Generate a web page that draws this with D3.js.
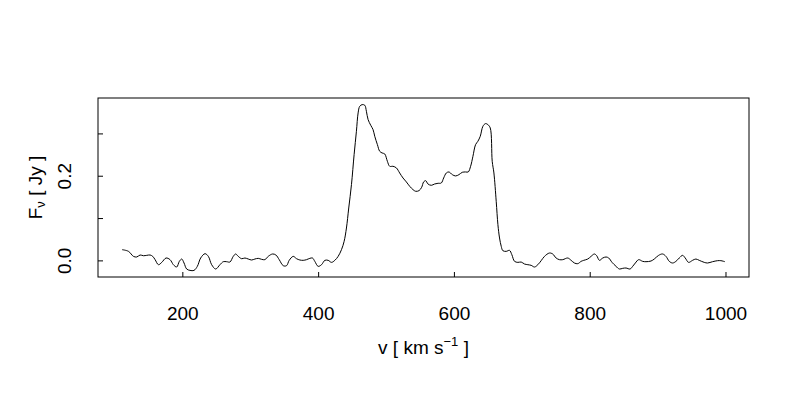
<!DOCTYPE html>
<html>
<head>
<meta charset="utf-8">
<script src="https://cdn.jsdelivr.net/npm/d3@7"></script>
<style>
  html, body { margin: 0; padding: 0; background: #fff; }
  svg { display: block; font-family: "Liberation Sans", Arial, Helvetica, sans-serif; }
</style>
</head>
<body>
<svg id="chart" width="800" height="400"></svg>
<script>
// Velocity (km/s) and flux density (Jy)
const velocity = [111.3,120.6,128,132.9,137.8,142.7,147.6,152.5,156.4,159.9,164.8,169.7,176,181.9,186.8,191.7,195.6,199.1,202.5,206.4,211.3,217.2,222.1,227,233.4,238.3,243.2,249.1,255.4,260.3,265.3,270.1,275,278.5,282.4,287.3,292.2,297.1,302,306.9,311.8,316.7,321.6,326.5,332.9,337.8,342.7,348.6,353.5,357.4,363.3,368.2,373.1,378,382.9,387.8,391.7,395.1,400,405,
  409.9,414.8,419.7,424.6,429.5,434.4,438.3,441.7,445.1,449.1,453,456.4,458.9,461.3,464.8,468.7,471.1,473.6,477.5,480.9,483.4,487.3,490.7,494.2,498.1,502,505.4,510.3,515.3,520.1,525,530,534.9,539.8,
  543.7,548.6,552.5,555.4,558.4,561.8,566.7,571.6,576.5,581.4,584.9,588.8,592.7,597.6,602.5,607.4,612.3,617.2,621.1,624.6,628,631.9,635.3,638.8,642.7,646.6,650,653.5,656.4,658.9,
  662.3,664.8,667.2,669.7,672.1,677,681.9,685.3,689.3,694.2,699.1,704,708.9,713.8,718.7,723.6,728.5,733.4,740.7,745.6,750.5,755.4,760.3,767.7,772.6,777.5,782.4,787.3,791.2,797.1,
  802,806.9,810.3,814.3,819.2,824.1,828,832.9,838.8,843.7,848.6,853.5,859.4,863.3,867.2,872.1,878,882.9,890.3,895.1,901.5,907.4,912.3,917.2,922.1,927,931.9,936.8,940.7,945.6,951.5,956.4,961.3,968.7,973.6,980.9,988.3,993.2,999.1];

const flux = [0.0253,0.0214,0.0095,0.008,0.0127,0.011,0.0119,0.0127,0.0095,0.0017,-0.0102,-0.0047,0.0056,0.0017,-0.0102,-0.0157,-0.0023,0.0032,-0.0062,-0.0204,-0.0236,-0.0236,-0.0141,0.0056,0.0158,0.0095,-0.0102,-0.0204,-0.0102,-0.0031,-0.0031,-0.0039,0.0095,0.0151,0.0095,0.004,0.0056,0.0032,0.0009,0.0032,0.0048,0.0025,0.0017,0.0095,0.0151,0.0127,0.0017,-0.0125,-0.0125,0.0001,0.0095,0.004,0.0009,0.0001,0.0017,0.0048,0.0056,-0.0023,-0.0141,-0.0102,
  0.0001,0.0001,-0.0047,0.0001,0.0095,0.0253,0.045,0.0765,0.1238,0.179,0.2499,0.305,0.3484,0.3641,0.368,0.3665,0.3523,0.3326,0.3192,0.309,0.2932,0.2735,0.2578,0.2538,0.2515,0.2341,0.2223,0.2223,0.2184,0.2065,0.1947,0.1853,0.175,0.1671,
  0.1632,0.1648,0.1727,0.1853,0.1884,0.1805,0.1774,0.1805,0.1821,0.1829,0.1947,0.2065,0.2089,0.2026,0.1995,0.2026,0.2081,0.2089,0.2089,0.2223,0.2459,0.2735,0.2814,0.2932,0.3169,0.3232,0.3208,0.3129,0.2341,0.2065,
  0.1396,0.0844,0.0529,0.0332,0.0229,0.0213,0.0237,0.0135,-0.0023,-0.0047,-0.0039,-0.0086,-0.0102,-0.0117,-0.0157,-0.0102,-0.0007,0.0095,0.0174,0.015,0.0056,0.0017,0.0017,0.0056,0.0001,-0.0062,-0.0078,-0.0023,0.0001,0.0032,
  0.0095,0.0151,0.0111,0.0001,0.0056,0.008,0.0056,-0.0047,-0.0141,-0.0204,-0.0188,-0.018,-0.0204,-0.0141,-0.0062,0.0017,-0.0023,-0.0031,-0.0015,0.0032,0.0119,0.0151,0.0095,-0.0023,-0.0062,-0.0023,0.0056,0.0119,0.0056,-0.0047,0.0001,0.0032,0.0001,-0.0047,-0.0062,-0.0031,-0.0007,-0.0007,-0.0031];

const xTicks = [200, 400, 600, 800, 1000];
const xTickLabels = ["200", "400", "600", "800", "1000"];
const yTicks = [0, 0.1, 0.2, 0.3];
const yTickLabels = ["0.0", "", "0.2", ""];

const svg = d3.select("#chart");
const plot = { left: 98, right: 749, top: 98, bottom: 277 };
const FONT = "'Liberation Sans', Arial, sans-serif";

// R-style 4% axis extension
function padExtent(arr) {
  const [lo, hi] = d3.extent(arr);
  const d = (hi - lo) * 0.04;
  return [lo - d, hi + d];
}

const x = d3.scaleLinear().domain(padExtent(velocity)).range([plot.left, plot.right]);
const y = d3.scaleLinear().domain(padExtent(flux)).range([plot.bottom, plot.top]);

const pts = velocity.map((v, i) => [v, flux[i]]);

// spectrum line
svg.append("path")
  .datum(pts)
  .attr("fill", "none")
  .attr("stroke", "#000")
  .attr("stroke-width", 1)
  .attr("d", d3.line().x(d => x(d[0])).y(d => y(d[1])).curve(d3.curveCatmullRom.alpha(0.5)));

// x axis (ticks pointing inward)
const xAxis = svg.append("g")
  .attr("transform", `translate(0,${plot.bottom})`)
  .call(d3.axisBottom(x).tickValues(xTicks).tickSize(-5)
    .tickFormat((d, i) => xTickLabels[i]));
xAxis.select(".domain").remove();
xAxis.selectAll(".tick line").attr("stroke", "#000");
xAxis.selectAll(".tick text")
  .attr("y", 43).attr("dy", 0)
  .attr("font-size", 19).attr("fill", "#000")
  .attr("font-family", FONT);

// y axis (ticks pointing inward, labels rotated)
const yAxis = svg.append("g")
  .attr("transform", `translate(${plot.left},0)`)
  .call(d3.axisLeft(y).tickValues(yTicks).tickSize(-5)
    .tickFormat((d, i) => yTickLabels[i]));
yAxis.select(".domain").remove();
yAxis.selectAll(".tick line").attr("stroke", "#000");
yAxis.selectAll(".tick text")
  .attr("x", 0).attr("dy", 0)
  .attr("text-anchor", "middle")
  .attr("transform", "translate(-27,0) rotate(-90)")
  .attr("font-size", 19).attr("fill", "#000")
  .attr("font-family", FONT);

// box
svg.append("rect")
  .attr("x", plot.left).attr("y", plot.top)
  .attr("width", plot.right - plot.left).attr("height", plot.bottom - plot.top)
  .attr("fill", "none").attr("stroke", "#000").attr("stroke-width", 1);

// x title
const xt = svg.append("text")
  .attr("x", (plot.left + plot.right) / 2).attr("y", 354)
  .attr("text-anchor", "middle").attr("font-size", 19)
  .attr("fill", "#000").attr("font-family", FONT);
xt.append("tspan").text("v [ km s");
xt.append("tspan").attr("font-size", 13).attr("dy", -8).text("\u22121");
xt.append("tspan").attr("dy", 8).text(" ]");

// y title
const yt = svg.append("text")
  .attr("transform", `translate(42,${(plot.top + plot.bottom) / 2}) rotate(-90)`)
  .attr("text-anchor", "middle").attr("font-size", 19)
  .attr("fill", "#000").attr("font-family", FONT);
yt.append("tspan").text("F");
yt.append("tspan").attr("font-size", 13).attr("dy", 3).text("\u03bd");
yt.append("tspan").attr("dy", -3).text(" [ Jy ]");
</script>
</body>
</html>
